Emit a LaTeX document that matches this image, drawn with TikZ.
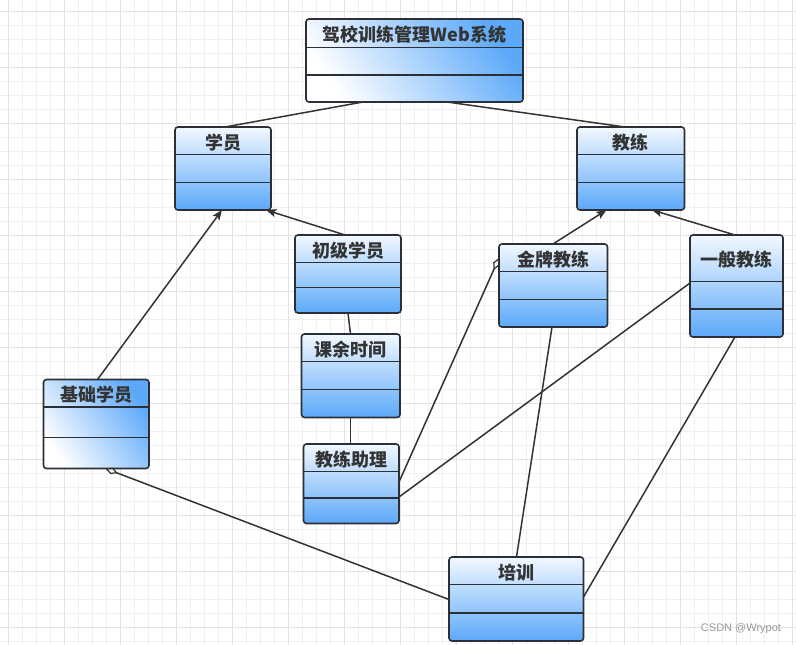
\documentclass[tikz,border=0pt]{standalone}
\usepackage{fontspec}
\setmainfont{Liberation Sans}
\newfontfamily\cjk{Noto Sans CJK SC}
\usetikzlibrary{arrows.meta,calc}
\definecolor{gridminor}{HTML}{F0F0F0}
\definecolor{gridmajor}{HTML}{E3E3E3}
\definecolor{boxtop}{HTML}{F2F8FF}
\definecolor{boxbot}{HTML}{5CA9F9}
\definecolor{edgec}{HTML}{2C3036}
\definecolor{linec}{HTML}{333333}
\definecolor{textc}{HTML}{333333}
\definecolor{wmc}{HTML}{9A9A9A}
\newcommand\umlclass[9]{%
  \node[classbox,#9,minimum width={#4-#2},minimum height={#5-#3}] (#1) at ({(#2+#4)/2},{(#3+#5)/2}) {};
  \draw[divider] (#2,#6) -- (#4,#6) (#2,#7) -- (#4,#7);
  \node[classtitle] (#1-title) at ({(#2+#4)/2},{(#3+#6)/2+1.5}) {#8};
}
\begin{document}
\begin{tikzpicture}[x=1pt,y=-1pt,
  classbox/.style={draw=edgec,line width=1.6pt,rounded corners=3pt,inner sep=0pt,outer sep=0pt},
  vgrad/.style={top color=boxtop,bottom color=boxbot},
  dgrad/.style={bottom color=white,top color=boxbot,shading angle=-55},
  divider/.style={draw=edgec,line width=1.4pt},
  classtitle/.style={font=\cjk\fontsize{18}{21}\selectfont\bfseries,text=textc,inner sep=0pt},
  conn/.style={draw=linec,line width=1.5pt},
  inherit/.style={conn,-{Stealth[length=10pt,width=8pt,inset=2pt]}},
  aggr/.style={conn,{Diamond[open,length=13pt,width=7pt,line width=1.2pt]}-},
  wm/.style={font=\fontsize{11}{13}\selectfont,text=wmc,inner sep=0pt}
]
\useasboundingbox (0,0) rectangle (796,645);
\fill[white] (0,0) rectangle (796,645);
% grid
\foreach \gx in {8,22,...,796} \draw[gridminor,line width=0.8pt] (\gx,0) -- (\gx,645);
\foreach \gy in {11.7,25.7,...,645} \draw[gridminor,line width=0.8pt] (0,\gy) -- (796,\gy);
\foreach \gx in {8,64,...,796} \draw[gridmajor,line width=0.8pt] (\gx,0) -- (\gx,645);
\foreach \gy in {11.7,67.7,...,645} \draw[gridmajor,line width=0.8pt] (0,\gy) -- (796,\gy);
% classes
\umlclass{top}{306}{19}{523}{102}{47.5}{75}{驾校训练管理Web系统}{dgrad}
\umlclass{xy}{175}{127}{271}{210}{154.5}{182.5}{学员}{vgrad}
\umlclass{jl}{577}{127}{684.5}{210}{154.5}{182.5}{教练}{vgrad}
\umlclass{cj}{295}{235}{401}{313}{262.5}{287.5}{初级学员}{vgrad}
\umlclass{jp}{499}{244}{607.5}{327}{271.5}{299.5}{金牌教练}{vgrad}
\umlclass{yb}{690}{235}{783}{337}{281.5}{309}{一般教练}{vgrad}
\umlclass{jc}{43.5}{379.5}{149}{468.5}{407}{437.5}{基础学员}{dgrad}
\umlclass{ky}{301.5}{334}{400}{417.5}{361.5}{389.5}{课余时间}{vgrad}
\umlclass{zl}{303.5}{444}{399}{523.5}{471.5}{498}{教练助理}{vgrad}
\umlclass{px}{449}{557}{583.5}{641}{584.5}{613}{培训}{vgrad}
% connectors
\draw[conn] ($(top.south west)+(57,0)$) -- ($(xy.north west)+(50,0)$);
\draw[conn] ($(top.south west)+(141,0)$) -- ($(jl.north west)+(48,0)$);
\draw[inherit] ($(cj.north west)+(50,0)$) -- ($(xy.south east)+(-5,0)$);
\draw[inherit] ($(jc.north west)+(54,0)$) -- ($(xy.south west)+(47,0)$);
\draw[conn] ($(cj.south west)+(53,0)$) -- ($(ky.north west)+(49,0)$);
\draw[conn] ($(ky.south west)+(49,0)$) -- ($(zl.north west)+(47,0)$);
\draw[inherit] ($(jp.north west)+(54,0)$) -- ($(jl.south west)+(29.5,0)$);
\draw[inherit] ($(yb.north west)+(45,0)$) -- ($(jl.south west)+(75,0)$);
\draw[aggr] ($(jp.north west)+(0,14)$) -- ($(zl.north east)+(0,38)$);
\draw[conn] ($(yb.north west)+(0,48)$) -- ($(zl.north east)+(0,53)$);
\draw[conn] ($(jp.south west)+(53,0)$) -- ($(px.north west)+(67.5,0)$);
\draw[conn] ($(yb.south west)+(45,0)$) -- ($(px.north east)+(0,40)$);
\draw[aggr] ($(jc.south west)+(62,0)$) -- ($(px.north west)+(0,42.5)$);
% watermark
\node[wm] (wm) at (741,629) {CSDN @Wrypot};
\end{tikzpicture}
\end{document}
